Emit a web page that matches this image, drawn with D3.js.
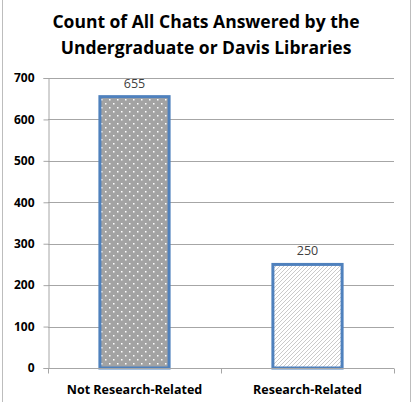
<!DOCTYPE html>
<html>
<head>
<meta charset="utf-8">
<script src="https://cdn.jsdelivr.net/npm/d3@7"></script>
<style>
  body { margin: 0; background: #fff; }
  text { font-family: "Open Sans", "Liberation Sans", sans-serif; }
</style>
</head>
<body>
<div id="chart"></div>
<script>
var categories = ["Not Research-Related", "Research-Related"];
var counts = [655, 250];
var yTicks = [0, 100, 200, 300, 400, 500, 600, 700];
var titleLines = ["Count of All Chats Answered by the", "Undergraduate or Davis Libraries"];

var W = 414, H = 402;
var margin = { top: 78, right: 20, bottom: 34, left: 48 },
  width = W - margin.left - margin.right,
  height = H - margin.top - margin.bottom;

var svg = d3.select("#chart").append("svg")
  .attr("width", W)
  .attr("height", H);

// patterns
var defs = svg.append("defs");
var dots = defs.append("pattern")
  .attr("id", "dots")
  .attr("patternUnits", "userSpaceOnUse")
  .attr("width", 8).attr("height", 8);
dots.append("rect").attr("width", 8).attr("height", 8).attr("fill", "#a3a3a3");
dots.append("rect").attr("x", 1).attr("y", 1).attr("width", 1.5).attr("height", 1.5).attr("fill", "#fff");
dots.append("rect").attr("x", 5).attr("y", 5).attr("width", 1.5).attr("height", 1.5).attr("fill", "#fff");

var hatch = defs.append("pattern")
  .attr("id", "hatch")
  .attr("patternUnits", "userSpaceOnUse")
  .attr("width", 4).attr("height", 4);
hatch.append("rect").attr("width", 4).attr("height", 4).attr("fill", "#fff");
hatch.append("path")
  .attr("d", "M-1,1 l2,-2 M0,4 l4,-4 M3,5 l2,-2")
  .attr("stroke", "#c4c4c4")
  .attr("stroke-width", 0.9);

// outer frame (sides)
svg.append("line").attr("x1", 2.5).attr("x2", 2.5).attr("y1", 0).attr("y2", H)
  .attr("stroke", "#bdbdbd");
svg.append("line").attr("x1", 410.5).attr("x2", 410.5).attr("y1", 0).attr("y2", H)
  .attr("stroke", "#bdbdbd");

// title
svg.append("g").selectAll("text")
  .data(titleLines)
  .enter().append("text")
  .attr("x", 206)
  .attr("y", function(d, i) { return 28 + i * 26; })
  .attr("text-anchor", "middle")
  .attr("font-size", "17.5px")
  .attr("font-weight", "bold")
  .attr("fill", "#000")
  .text(function(d) { return d; });

var g = svg.append("g")
  .attr("transform", "translate(" + margin.left + "," + margin.top + ")");

var x = d3.scaleBand()
  .domain(categories)
  .range([0, width])
  .paddingInner(0.6)
  .paddingOuter(0.3);

var y = d3.scaleLinear()
  .domain([0, 700])
  .range([height, 0]);

// gridlines
g.append("g").selectAll("line")
  .data(yTicks.slice(1))
  .enter().append("line")
  .attr("x1", 0).attr("x2", width)
  .attr("y1", function(d) { return Math.round(y(d)) + 0.5; })
  .attr("y2", function(d) { return Math.round(y(d)) + 0.5; })
  .attr("stroke", "#a6a6a6");

// y axis
var yAxis = g.append("g")
  .attr("transform", "translate(0.5,0)")
  .call(d3.axisLeft(y).tickValues(yTicks).tickSize(5).tickPadding(9));
yAxis.select(".domain").attr("stroke", "#a6a6a6");
yAxis.selectAll(".tick line").attr("stroke", "#a6a6a6");
yAxis.selectAll(".tick text")
  .attr("font-size", "12px")
  .attr("font-weight", "bold")
  .attr("fill", "#000");

// bars
g.selectAll(".bar")
  .data(counts)
  .enter().append("rect")
  .attr("class", "bar")
  .attr("x", function(d, i) { return x(categories[i]); })
  .attr("y", function(d) { return y(d); })
  .attr("width", x.bandwidth())
  .attr("height", function(d) { return height - y(d); })
  .attr("fill", function(d, i) { return i == 0 ? "url(#dots)" : "url(#hatch)"; })
  .attr("stroke", "#4f81bd")
  .attr("stroke-width", 3);

// value labels
g.selectAll(".val")
  .data(counts)
  .enter().append("text")
  .attr("class", "val")
  .attr("x", function(d, i) { return x(categories[i]) + x.bandwidth() / 2; })
  .attr("y", function(d) { return y(d) - 9; })
  .attr("text-anchor", "middle")
  .attr("font-size", "12.5px")
  .attr("fill", "#404040")
  .text(function(d) { return d; });

// x axis
var xAxis = g.append("g")
  .attr("transform", "translate(0," + (Math.round(height) + 0.5) + ")");
xAxis.append("line").attr("x1", -4).attr("x2", width).attr("stroke", "#a6a6a6");
xAxis.selectAll(".tk")
  .data([0, width / 2, width])
  .enter().append("line")
  .attr("x1", function(d) { return Math.round(d) + 0.5; })
  .attr("x2", function(d) { return Math.round(d) + 0.5; })
  .attr("y1", 0).attr("y2", 5)
  .attr("stroke", "#a6a6a6");
xAxis.selectAll(".lbl")
  .data(categories)
  .enter().append("text")
  .attr("x", function(d) { return x(d) + x.bandwidth() / 2; })
  .attr("y", 25)
  .attr("text-anchor", "middle")
  .attr("font-size", "12.5px")
  .attr("font-weight", "bold")
  .attr("fill", "#000")
  .text(function(d) { return d; });
</script>
</body>
</html>
